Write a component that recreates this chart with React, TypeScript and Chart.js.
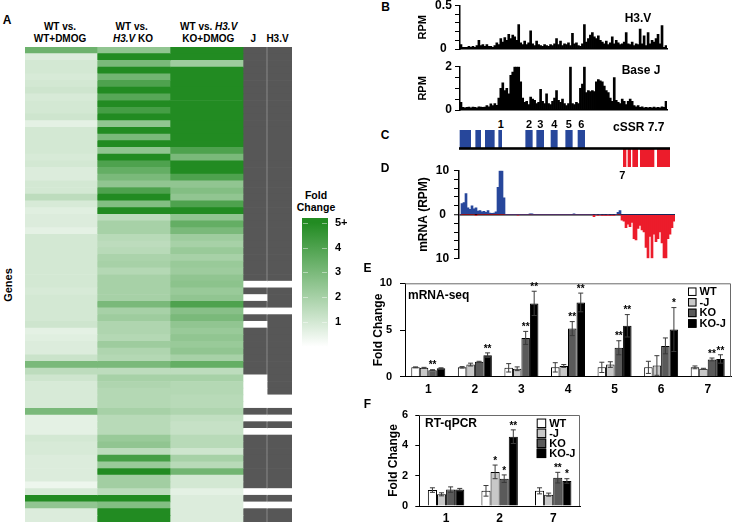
import React, { useEffect, useRef } from "react";
import { Chart, registerables } from "chart.js";
Chart.register(...registerables);

const FONT = "'Liberation Sans', Arial, Helvetica, sans-serif";
Chart.defaults.font.family = FONT;
Chart.defaults.color = "#000";

// ---------------- Panel A : heatmap ----------------
const heatColumns = ["WT vs. WT+DMOG", "WT vs. H3.V KO", "WT vs. H3.V KO+DMOG", "J", "H3.V"];
const foldWtDmog = [
  3.3, 0.8, 1.0, 1.0, 0.9, 1.0, 1.1, 0.9, 1.0, 1.0,
  1.1, 0.6, 1.0, 1.0, 1.0, 1.0, 0.9, 1.0, 0.8, 0.8,
  1.0, 1.0, 1.5, 0.9, 0.7, 0.8, 0.8, 0.6, 1.0, 1.0,
  1.0, 1.0, 1.0, 1.0, 1.0, 1.0, 0.9, 1.0, 1.0, 1.0,
  1.0, 1.1, 0.6, 0.7, 0.8, 0.8, 1.2, 3.0, 1.5, 1.1,
  0.9, 0.9, 0.9, 0.9, 3.0, 0.6, 0.6, 0.6, 1.0, 0.9,
  0.9, 0.8, 0.8, 0.8, 0.8, 0.4, 0.9, 5.0, 2.5, 0.8,
  0.8,
];
const foldKo = [
  2.5, 5, 3.0, 5, 3.2, 4.0, 5, 3.8, 5, 4.2,
  5, 2.5, 5, 3.0, 5, 2.5, 5, 4.0, 3.5, 3.0,
  2.5, 4.0, 5, 2.8, 5, 1.5, 2.0, 2.0, 1.6, 1.5,
  1.6, 1.9, 2.0, 1.7, 2.0, 2.0, 2.0, 2.0, 3.0, 2.0,
  2.2, 1.8, 1.8, 1.7, 2.2, 1.8, 1.7, 3.0, 1.5, 2.0,
  1.8, 1.7, 1.7, 1.7, 2.0, 1.6, 1.6, 1.6, 2.3, 2.5,
  1.5, 4.2, 2.3, 5.0, 2.1, 2.1, 1.5, 5.0, 2.8, 5,
  5,
];
const foldKoDmog = [
  5, 5, 2.2, 5, 5, 5, 5, 5, 5, 5,
  5, 5, 5, 5, 5, 4.0, 3.0, 5, 5, 4.0,
  2.5, 2.8, 2.5, 4.0, 5, 2.5, 3.5, 3.0, 2.2, 2.0,
  2.3, 2.0, 2.3, 2.2, 2.5, 2.6, 2.3, 2.5, 4.0, 2.7,
  3.0, 2.5, 2.3, 2.5, 2.3, 2.5, 2.0, 3.5, 1.5, 2.0,
  1.7, 1.7, 1.6, 1.6, 1.8, 1.4, 1.3, 1.3, 1.6, 1.6,
  1.1, 2.0, 1.6, 3.2, 1.0, 1.0, 0.6, 0.8, 0.8, 0.8,
  0.8,
];
const hasJ = [
  1, 1, 1, 1, 1, 1, 1, 1, 1, 1,
  1, 1, 1, 1, 1, 1, 1, 1, 1, 1,
  1, 1, 1, 1, 1, 1, 1, 1, 1, 1,
  1, 1, 1, 1, 1, 0, 1, 0, 1, 0,
  1, 0, 1, 1, 1, 1, 1, 1, 1, 0,
  0, 0, 0, 0, 1, 0, 1, 0, 1, 1,
  1, 1, 1, 1, 1, 1, 0, 1, 0, 1,
  1,
];
const hasH3V = [
  1, 1, 1, 1, 1, 1, 1, 1, 1, 1,
  1, 1, 1, 1, 1, 1, 1, 1, 1, 1,
  1, 1, 1, 1, 1, 1, 1, 1, 1, 1,
  1, 1, 1, 1, 1, 0, 1, 1, 1, 0,
  1, 1, 1, 1, 1, 1, 1, 1, 1, 1,
  1, 1, 0, 0, 1, 0, 1, 0, 1, 1,
  1, 1, 1, 1, 1, 1, 0, 1, 0, 1,
  1,
];
const colorbarTicks = [1, 2, 3, 4, 5];

// ---------------- Panel B : RPM tracks ----------------
const h3vRpm = [
  0.05, 0.02, 0.02, 0.02, 0.03, 0.02, 0.03, 0.02, 0.04, 0.1,
  0.04, 0.05, 0.03, 0.05, 0.03, 0.03, 0.02, 0.04, 0.07, 0.05,
  0.12, 0.08, 0.13, 0.1, 0.17, 0.12, 0.16, 0.14, 0.1, 0.28,
  0.07, 0.05, 0.09, 0.05, 0.07, 0.21, 0.06, 0.04, 0.09, 0.05,
  0.04, 0.03, 0.05, 0.04, 0.03, 0.05, 0.04, 0.06, 0.12, 0.05,
  0.09, 0.04, 0.06, 0.05, 0.07, 0.04, 0.18, 0.06, 0.07, 0.04,
  0.03, 0.06, 0.28, 0.08, 0.12, 0.16, 0.19, 0.14, 0.12, 0.15,
  0.1, 0.08, 0.06, 0.09, 0.05, 0.07, 0.14, 0.06, 0.1, 0.07,
  0.05, 0.06, 0.08, 0.19, 0.06, 0.05, 0.08, 0.04, 0.06, 0.05,
  0.23, 0.06, 0.15, 0.04, 0.19, 0.06, 0.1, 0.08, 0.12, 0.17,
  0.06, 0.27, 0.02, 0.04,
];
const baseJRpm = [
  0.35, 0.12, 0.1, 0.12, 0.13, 0.1, 0.14, 0.12, 0.1, 0.15,
  0.13, 0.12, 0.14, 0.2, 0.15, 0.28, 0.2, 0.3, 0.22, 0.55,
  1.0, 1.25, 0.9, 1.0, 0.75, 1.6, 1.75, 2.0, 2.0, 2.0,
  1.3, 0.55, 0.35, 0.4, 0.25, 0.6, 0.5, 0.45, 0.3, 0.35,
  0.95, 0.4, 0.3, 0.75, 0.3, 0.25, 0.4, 0.55, 0.9, 0.45,
  0.35, 0.5, 0.3, 0.2, 0.3, 2.0, 0.3, 0.25, 0.35, 0.3,
  1.0, 1.2, 2.0, 0.8, 0.9, 0.85, 0.9, 0.85, 1.3, 1.4,
  1.35, 1.3, 1.1, 0.9, 0.8, 0.55, 0.4, 1.5, 0.45, 0.35,
  0.3, 0.5, 0.4, 0.25, 0.4, 0.5, 0.4, 0.2, 0.15, 0.2,
  0.12, 0.15, 0.1, 0.12, 0.1, 0.12, 0.1, 0.13, 0.1, 0.12,
  0.1, 0.15, 0.12, 0.4,
];

// ---------------- Panel C : cSSR 7.7 genes (kb) ----------------
const plusStrandGenes = [
  [0.1, 1.17], [1.67, 2.17], [2.63, 3.53], [3.97, 4.27], [6.67, 7.33],
  [7.77, 8.47], [9.2, 9.83], [10.67, 11.33], [11.9, 12.57],
];
const minusStrandGenes = [[16.43, 16.7], [16.9, 17.17], [17.37, 17.87], [18.13, 19.5], [19.83, 21.1]];
const locusLengthKb = 21.1;

// ---------------- Panel D : mRNA (RPM) ----------------
const mrnaSense = [
  0, 2.5, 2.7, 4.8, 1.5, 1.2, 2.0, 1.3, 1.5, 0.8,
  0.9, 0.6, 0.7, 0.5, 0.9, 0.3, 0.25, 0.3, 0.6, 6.2,
  10, 10, 3.8, 0, 0, 0, 0, 0, 0, 0,
  0, 0, 0, 0, 0, 0.15, 0.1, 0, 0, 0,
  0, 0, 0, 0, 0, 0, 0, 0, 0, 0,
  0, 0, 0, 0, 0, 0, 0, 0.1, 0, 0,
  0, 0, 0, 0, 0, 0, 0, 0, 0, 0,
  0, 0, 0, 0, 0, 0, 0, 0, 0, 0.5,
  0.9, 0, 0, 0, 0, 0, 0, 0, 0, 0,
  0, 0, 0, 0, 0, 0, 0, 0, 0, 0,
  0, 0, 0, 0, 0, 0, 0, 0,
];
const mrnaAntisense = [
  0, 0, 0, 0, 0, 0, 0, 0, -0.2, 0,
  0, 0, 0, 0, 0, 0, 0, 0, 0, 0,
  0, 0, 0, 0, 0, 0, 0, 0, 0, -0.1,
  0, 0, 0, 0, 0, 0, 0, 0, 0, 0,
  0, 0, 0, 0, 0, 0, 0, 0, 0, 0,
  0, 0, 0, 0, 0, 0, 0, 0, 0, 0,
  0, 0, 0, 0, 0, 0, 0, -0.5, 0, -0.2,
  0, -0.2, -0.15, -0.2, -0.1, -0.2, -0.15, -0.2, 0, 0,
  0, -1.3, -1.5, -3.0, -2.2, -2.8, -1.8, -5.5, -5.8, -3.2,
  -2.5, -3.5, -4.0, -7.5, -10, -5.0, -10, -4.5, -6.2, -5.5,
  -4.0, -6.5, -10, -10, -5.5, -4.5, -3.0, -1.5,
];

// ---------------- Panel E : mRNA-seq ----------------
const seqGenes = ["1", "2", "3", "4", "5", "6", "7"];
const seqWT = [1.0, 1.0, 0.95, 1.0, 1.0, 1.0, 1.0];
const seqWTErr = [0.05, 0.08, 0.45, 0.5, 0.55, 0.65, 0.15];
const seqJ = [0.95, 1.3, 0.85, 1.15, 1.3, 1.2, 0.85];
const seqJErr = [0.05, 0.15, 0.2, 0.15, 0.3, 1.05, 0.05];
const seqKO = [0.7, 1.6, 4.15, 5.15, 3.1, 3.3, 1.85];
const seqKOErr = [0.05, 0.05, 0.7, 0.75, 0.75, 0.85, 0.15];
const seqKOJ = [0.9, 2.3, 7.85, 7.95, 5.45, 5.05, 1.9];
const seqKOJErr = [0.05, 0.25, 1.3, 1.0, 1.2, 2.35, 0.45];
const seqKOStars = ["**", "", "**", "**", "**", "", "**"];
const seqKOJStars = ["", "**", "**", "**", "**", "*", "**"];

// ---------------- Panel F : RT-qPCR ----------------
const pcrGenes = ["1", "2", "7"];
const pcrWT = [1.05, 1.0, 1.0];
const pcrWTErr = [0.15, 0.35, 0.2];
const pcrJ = [0.77, 2.25, 0.75];
const pcrJErr = [0.1, 0.45, 0.1];
const pcrKO = [1.08, 1.8, 1.87];
const pcrKOErr = [0.18, 0.25, 0.35];
const pcrKOJ = [1.08, 4.57, 1.65];
const pcrKOJErr = [0.08, 0.45, 0.15];
const pcrJStars = ["", "*", ""];
const pcrKOStars = ["", "*", "**"];
const pcrKOJStars = ["", "**", "*"];

// ---------------- helpers ----------------
const DARK = "#575757";
const GREEN = [34, 139, 34];
function foldColor(v: number) {
  const t = Math.max(0, Math.min(1, v / 5));
  const c = GREEN.map((g) => Math.round(255 + (g - 255) * t));
  return `rgb(${c[0]},${c[1]},${c[2]})`;
}
const fixSize = (size: number) => (s: any) => {
  if (s.isHorizontal()) s.height = size;
  else s.width = size;
  s.paddingLeft = 0;
  s.paddingRight = 0;
  s.paddingTop = 0;
  s.paddingBottom = 0;
};
const baseOpts: any = {
  responsive: false,
  animation: false,
  events: [],
  plugins: { legend: { display: false }, tooltip: { enabled: false } },
};
const bold = (size: number) => ({ size, weight: "bold" as const, family: FONT });

const errorBars = {
  id: "errorBars",
  afterDatasetsDraw(chart: any) {
    const y = chart.scales.y;
    const ctx = chart.ctx;
    ctx.save();
    chart.data.datasets.forEach((ds: any, i: number) => {
      const meta = chart.getDatasetMeta(i);
      meta.data.forEach((bar: any, j: number) => {
        const v = ds.data[j];
        const e = ds.errors ? ds.errors[j] : 0;
        const top = y.getPixelForValue(v + e);
        const bot = y.getPixelForValue(v - e);
        ctx.strokeStyle = "#3a3a3a";
        ctx.lineWidth = 1;
        ctx.beginPath();
        ctx.moveTo(bar.x, top);
        ctx.lineTo(bar.x, bot);
        ctx.moveTo(bar.x - 2.5, top);
        ctx.lineTo(bar.x + 2.5, top);
        ctx.moveTo(bar.x - 2.5, bot);
        ctx.lineTo(bar.x + 2.5, bot);
        ctx.stroke();
        const s = ds.stars ? ds.stars[j] : "";
        if (s) {
          ctx.fillStyle = "#000";
          ctx.font = `bold 10px ${FONT}`;
          ctx.textAlign = "center";
          ctx.textBaseline = "bottom";
          ctx.fillText(s, bar.x, top + 1);
        }
      });
    });
    ctx.restore();
  },
};
const frame = {
  id: "frame",
  afterDatasetsDraw(chart: any) {
    const { left, top, right, bottom } = chart.chartArea;
    const ctx = chart.ctx;
    ctx.save();
    ctx.strokeStyle = "#6a6a6a";
    ctx.lineWidth = 1;
    ctx.beginPath();
    ctx.moveTo(left, top + 0.5);
    ctx.lineTo(right - 0.5, top + 0.5);
    ctx.lineTo(right - 0.5, bottom);
    ctx.stroke();
    ctx.restore();
  },
};
const boxLegend = (dxFromRight: number, dyFromTop: number, box: number, gap: number, font: number) => ({
  id: "boxLegend",
  afterDraw(chart: any) {
    const ctx = chart.ctx;
    const x0 = chart.chartArea.right - dxFromRight;
    ctx.save();
    chart.data.datasets.forEach((ds: any, i: number) => {
      const y = chart.chartArea.top + dyFromTop + i * gap;
      ctx.fillStyle = ds.backgroundColor;
      ctx.fillRect(x0, y - box / 2, box, box);
      ctx.strokeStyle = "#000";
      ctx.lineWidth = 1;
      ctx.strokeRect(x0 + 0.5, y - box / 2 + 0.5, box - 1, box - 1);
      ctx.fillStyle = "#000";
      ctx.font = `bold ${font}px ${FONT}`;
      ctx.textAlign = "left";
      ctx.textBaseline = "middle";
      ctx.fillText(ds.label, x0 + box + 3, y + 0.5);
    });
    ctx.restore();
  },
});

function heatmapConfig(): any {
  const rows = foldKo.map((_, i) => `gene ${i + 1}`);
  const edges = [0, 72, 145, 218, 242, 267];
  const fills = [
    foldWtDmog.map(foldColor),
    foldKo.map(foldColor),
    foldKoDmog.map(foldColor),
    hasJ.map((b) => (b ? DARK : "#ffffff")),
    hasH3V.map((b) => (b ? DARK : "#ffffff")),
  ];
  return {
    type: "bar",
    data: {
      labels: rows,
      datasets: fills.map((bg, c) => ({
        label: heatColumns[c],
        data: rows.map(() => [edges[c], edges[c + 1]]),
        backgroundColor: bg,
        borderWidth: 0,
        grouped: false,
        barPercentage: 1,
        categoryPercentage: 1,
      })),
    },
    options: {
      ...baseOpts,
      indexAxis: "y",
      layout: { padding: 0 },
      scales: {
        x: { type: "linear", min: 0, max: 267, display: false },
        y: { type: "category", display: false },
      },
    },
    plugins: [
      {
        id: "sep",
        afterDatasetsDraw(chart: any) {
          const x = chart.scales.x.getPixelForValue(242);
          const ctx = chart.ctx;
          ctx.save();
          ctx.strokeStyle = "rgba(255,255,255,0.3)";
          ctx.lineWidth = 1;
          ctx.beginPath();
          ctx.moveTo(x, chart.chartArea.top);
          ctx.lineTo(x, chart.chartArea.bottom);
          ctx.stroke();
          ctx.restore();
        },
      },
    ],
  };
}

function colorbarConfig(): any {
  return {
    type: "bar",
    data: {
      labels: ["Fold Change"],
      datasets: [
        {
          data: [[-0.24, 5.18]],
          backgroundColor: (ctx: any) => {
            const c = ctx.chart;
            const y = c.scales && c.scales.y;
            if (!y || !c.chartArea) return "#fff";
            const y5 = y.getPixelForValue(5);
            const y0 = y.getPixelForValue(0);
            if (!isFinite(y5) || !isFinite(y0)) return "#fff";
            const g = c.ctx.createLinearGradient(0, y5, 0, y0);
            g.addColorStop(0, foldColor(5));
            g.addColorStop(1, foldColor(0));
            return g;
          },
          borderWidth: 0,
          barPercentage: 1,
          categoryPercentage: 1,
        },
      ],
    },
    options: {
      ...baseOpts,
      layout: { padding: 0 },
      scales: {
        x: { display: false },
        y: {
          position: "right",
          min: -0.536,
          max: 5.714,
          afterBuildTicks: (s: any) => {
            s.ticks = colorbarTicks.map((v) => ({ value: v }));
          },
          ticks: { callback: (v: any) => (v === 5 ? "5+" : String(v)), padding: 7, font: bold(11), color: "#000" },
          grid: { display: false, drawTicks: false },
          border: { display: false },
          afterFit: fixSize(22),
        },
      },
    },
    plugins: [
      {
        id: "cbTicks",
        afterDatasetsDraw(chart: any) {
          const ctx = chart.ctx;
          const { left, right } = chart.chartArea;
          ctx.save();
          ctx.strokeStyle = "rgba(255,255,255,0.45)";
          ctx.lineWidth = 1;
          colorbarTicks.forEach((v) => {
            const y = Math.round(chart.scales.y.getPixelForValue(v)) + 0.5;
            ctx.beginPath();
            ctx.moveTo(left + 1, y);
            ctx.lineTo(left + 6, y);
            ctx.moveTo(right - 6, y);
            ctx.lineTo(right - 1, y);
            ctx.stroke();
          });
          ctx.restore();
        },
      },
    ],
  };
}

function trackConfig(values: number[], max: number, step: number, padTop: number): any {
  return {
    type: "bar",
    data: {
      labels: values.map((_, i) => String(i)),
      datasets: [{ data: values, backgroundColor: "#000", borderWidth: 0, barPercentage: 1, categoryPercentage: 1 }],
    },
    options: {
      ...baseOpts,
      layout: { padding: { top: padTop, right: 5, left: 0, bottom: 0 } },
      scales: {
        x: {
          ticks: { display: false },
          grid: { display: false, drawTicks: false },
          border: { display: true, color: "#000", width: 1.5 },
          afterFit: fixSize(3),
        },
        y: {
          min: 0,
          max,
          ticks: {
            stepSize: step,
            autoSkip: false,
            callback: (v: any) => (Math.abs(v) < 1e-9 ? "0" : Math.abs(v - max) < 1e-9 ? String(max) : ""),
            crossAlign: "center",
            padding: 3.2,
            font: bold(12),
            color: "#000",
          },
          grid: { display: true, drawOnChartArea: false, drawTicks: true, tickLength: 5, tickColor: "#000", tickWidth: 1 },
          border: { display: true, color: "#000", width: 1.5 },
          title: { display: true, text: "RPM", font: bold(11), color: "#000", padding: { top: 16.7, bottom: 0 } },
          afterFit: fixSize(60),
        },
      },
    },
  };
}

function locusConfig(): any {
  return {
    type: "bar",
    data: {
      labels: ["plus", "minus"],
      datasets: [
        {
          label: "plus strand",
          data: plusStrandGenes.map((g) => ({ y: "plus", x: g })),
          backgroundColor: "#27479b",
          borderWidth: 0,
          grouped: false,
          barPercentage: 1,
          categoryPercentage: 1,
        },
        {
          label: "minus strand",
          data: minusStrandGenes.map((g) => ({ y: "minus", x: g })),
          backgroundColor: "#ec1c2b",
          borderWidth: 0,
          grouped: false,
          barPercentage: 1,
          categoryPercentage: 1,
        },
      ],
    },
    options: {
      ...baseOpts,
      indexAxis: "y",
      layout: { padding: 0 },
      scales: {
        x: { type: "linear", min: 0, max: locusLengthKb, display: false },
        y: { type: "category", display: false },
      },
    },
    plugins: [
      {
        id: "strand",
        afterDatasetsDraw(chart: any) {
          const { left, right, top, bottom } = chart.chartArea;
          const ctx = chart.ctx;
          ctx.save();
          ctx.fillStyle = "#000";
          ctx.fillRect(left, (top + bottom) / 2 - 1.3, right - left, 2.6);
          ctx.restore();
        },
      },
    ],
  };
}

function mrnaConfig(): any {
  return {
    type: "bar",
    data: {
      labels: mrnaSense.map((_, i) => String(i)),
      datasets: [
        { data: mrnaSense, backgroundColor: "#27479b", borderWidth: 0, grouped: false, barPercentage: 1, categoryPercentage: 1 },
        { data: mrnaAntisense, backgroundColor: "#ec1c2b", borderWidth: 0, grouped: false, barPercentage: 1, categoryPercentage: 1 },
      ],
    },
    options: {
      ...baseOpts,
      layout: { padding: { top: 10.7, right: 5, left: 0, bottom: 0 } },
      scales: {
        x: {
          ticks: { display: false },
          grid: { display: false, drawTicks: false },
          border: { display: false },
          afterFit: fixSize(3.7),
        },
        y: {
          min: -10,
          max: 10,
          ticks: {
            stepSize: 2,
            autoSkip: false,
            callback: (v: any) => (Math.abs(Math.abs(v) - 10) < 1e-9 ? "10" : Math.abs(v) < 1e-9 ? "0" : ""),
            crossAlign: "center",
            padding: 4.8,
            font: bold(12),
            color: "#000",
          },
          grid: {
            display: true,
            drawOnChartArea: true,
            drawTicks: true,
            tickLength: 5,
            tickColor: "#000",
            tickWidth: 1,
            color: (c: any) => (c.tick && Math.abs(c.tick.value) < 1e-9 ? "#000" : "rgba(0,0,0,0)"),
            lineWidth: (c: any) => (c.tick && Math.abs(c.tick.value) < 1e-9 ? 1.5 : 1),
          },
          border: { display: true, color: "#000", width: 1.5 },
          title: { display: true, text: "mRNA (RPM)", font: bold(12), color: "#000", padding: { top: 16.8, bottom: 0 } },
          afterFit: fixSize(59),
        },
      },
    },
  };
}

function groupedConfig(p: any): any {
  return {
    type: "bar",
    data: {
      labels: p.labels,
      datasets: p.series.map((s: any) => ({
        label: s.label,
        data: s.values,
        errors: s.errors,
        stars: s.stars,
        backgroundColor: s.color,
        borderColor: "#000",
        borderWidth: 1,
        barPercentage: 1,
        categoryPercentage: p.cat,
      })),
    },
    options: {
      ...baseOpts,
      layout: { padding: p.pad },
      scales: {
        x: {
          ticks: { font: bold(12), padding: p.xPad, color: "#000" },
          grid: { display: false, drawTicks: false },
          border: { display: true, color: "#000", width: 1 },
          afterFit: fixSize(p.xH),
        },
        y: {
          min: 0,
          max: p.max,
          ticks: { stepSize: p.step, font: bold(11), padding: p.yPad, color: "#000" },
          grid: { display: true, drawOnChartArea: false, drawTicks: true, tickLength: p.tl, tickColor: "#000", tickWidth: 1 },
          border: { display: true, color: "#000", width: 1 },
          title: { display: true, text: "Fold Change", font: bold(12), color: "#000", padding: { top: p.titlePad, bottom: 0 } },
          afterFit: fixSize(p.yW),
        },
      },
    },
    plugins: [frame, errorBars, boxLegend(p.legend[0], p.legend[1], p.legend[2], p.legend[3], 11)],
  };
}

const COLORS = { WT: "#ffffff", J: "#c8c8c8", KO: "#5a5a5a", KOJ: "#000000" };

function seqConfig(): any {
  return groupedConfig({
    labels: seqGenes,
    series: [
      { label: "WT", values: seqWT, errors: seqWTErr, stars: [], color: COLORS.WT },
      { label: "-J", values: seqJ, errors: seqJErr, stars: [], color: COLORS.J },
      { label: "KO", values: seqKO, errors: seqKOErr, stars: seqKOStars, color: COLORS.KO },
      { label: "KO-J", values: seqKOJ, errors: seqKOJErr, stars: seqKOJStars, color: COLORS.KOJ },
    ],
    cat: 0.73,
    pad: { top: 8.3, right: 3, left: 0, bottom: 0 },
    xPad: 5.4,
    xH: 23.3,
    max: 10,
    step: 5,
    yPad: 8,
    tl: 5,
    titlePad: 11.8,
    yW: 45,
    legend: [43, 8.4, 8.5, 10.6],
  });
}

function pcrConfig(): any {
  return groupedConfig({
    labels: pcrGenes,
    series: [
      { label: "WT", values: pcrWT, errors: pcrWTErr, stars: [], color: COLORS.WT },
      { label: "-J", values: pcrJ, errors: pcrJErr, stars: pcrJStars, color: COLORS.J },
      { label: "KO", values: pcrKO, errors: pcrKOErr, stars: pcrKOStars, color: COLORS.KO },
      { label: "KO-J", values: pcrKOJ, errors: pcrKOJErr, stars: pcrKOJStars, color: COLORS.KOJ },
    ],
    cat: 0.68,
    pad: { top: 15, right: 10, left: 0, bottom: 0 },
    xPad: 5,
    xH: 19,
    max: 6,
    step: 2,
    yPad: 7.3,
    tl: 4,
    titlePad: 16.8,
    yW: 49.3,
    legend: [43.3, 8.3, 9.5, 10],
  });
}

function ChartBox({ x, y, w, h, make }: { x: number; y: number; w: number; h: number; make: () => any }) {
  const ref = useRef<HTMLCanvasElement>(null);
  useEffect(() => {
    let chart: any = null;
    try {
      chart = new Chart(ref.current as HTMLCanvasElement, make());
    } catch (e) {
      console.error(e);
    }
    return () => {
      if (chart) chart.destroy();
    };
  }, []);
  return (
    <canvas ref={ref} width={w} height={h} style={{ position: "absolute", left: x, top: y, width: w, height: h }} />
  );
}

function T({
  x,
  y,
  s = 11,
  a = "c",
  rot = 0,
  children,
}: {
  x: number;
  y: number;
  s?: number;
  a?: "c" | "l" | "r";
  rot?: number;
  children: React.ReactNode;
}) {
  const tx = a === "c" ? "-50%" : a === "l" ? "0" : "-100%";
  return (
    <div
      style={{
        position: "absolute",
        left: x,
        top: y,
        transform: `translate(${tx}, -50%) rotate(${rot}deg)`,
        fontSize: s,
        fontWeight: "bold",
        fontFamily: FONT,
        whiteSpace: "nowrap",
        lineHeight: 1,
        color: "#000",
      }}
    >
      {children}
    </div>
  );
}

export default function App() {
  return (
    <div style={{ position: "fixed", left: 0, top: 0, width: 734, height: 525, background: "#fff", overflow: "hidden" }}>
      {/* Panel A */}
      <T x={7} y={19.5} s={12}>A</T>
      <T x={60} y={26.7} s={10}>WT vs.</T>
      <T x={60} y={39.3} s={10}>WT+DMOG</T>
      <T x={131.7} y={26.7} s={10}>WT vs.</T>
      <T x={133} y={39.3} s={10}><i>H3.V</i> KO</T>
      <T x={208.7} y={26.7} s={10}>WT vs. <i>H3.V</i></T>
      <T x={208.3} y={39.3} s={10}>KO+DMOG</T>
      <T x={253.3} y={39.3} s={10}>J</T>
      <T x={277.5} y={39.3} s={10}>H3.V</T>
      <T x={8} y={285} s={11} rot={-90}>Genes</T>
      <ChartBox x={25} y={47} w={267} h={475} make={heatmapConfig} />
      <T x={316} y={195} s={10.5}>Fold</T>
      <T x={316} y={207} s={10.5}>Change</T>
      <ChartBox x={302} y={205} w={48} h={155} make={colorbarConfig} />

      {/* Panel B */}
      <T x={385.5} y={6.5} s={12}>B</T>
      <ChartBox x={400} y={0} w={272} h={52} make={() => trackConfig(h3vRpm, 0.5, 0.1, 5.5)} />
      <T x={638} y={18} s={12}>H3.V</T>
      <ChartBox x={400} y={60} w={272} h={53} make={() => trackConfig(baseJRpm, 2, 0.5, 6.7)} />
      <T x={641} y={70} s={12}>Base J</T>

      {/* Panel C */}
      <T x={385} y={135} s={12}>C</T>
      <T x={500.7} y={124} s={11}>1</T>
      <T x={529} y={124} s={11}>2</T>
      <T x={540.3} y={124} s={11}>3</T>
      <T x={554.3} y={124} s={11}>4</T>
      <T x={568.7} y={124} s={11}>5</T>
      <T x={581.3} y={124} s={11}>6</T>
      <T x={613} y={127} s={12} a="l">cSSR 7.7</T>
      <ChartBox x={459} y={130} w={211} h={37} make={locusConfig} />
      <T x={622.3} y={175} s={11}>7</T>

      {/* Panel D */}
      <T x={385} y={168} s={12}>D</T>
      <ChartBox x={400} y={160} w={280} h={102} make={mrnaConfig} />

      {/* Panel E */}
      <T x={367.5} y={268} s={12}>E</T>
      <ChartBox x={360} y={275} w={374} h={125} make={seqConfig} />
      <T x={408} y={295} s={12} a="l">mRNA-seq</T>

      {/* Panel F */}
      <T x={367.5} y={404} s={12}>F</T>
      <ChartBox x={370} y={400} w={220} h={125} make={pcrConfig} />
      <T x={425} y={423} s={12} a="l">RT-qPCR</T>
    </div>
  );
}
